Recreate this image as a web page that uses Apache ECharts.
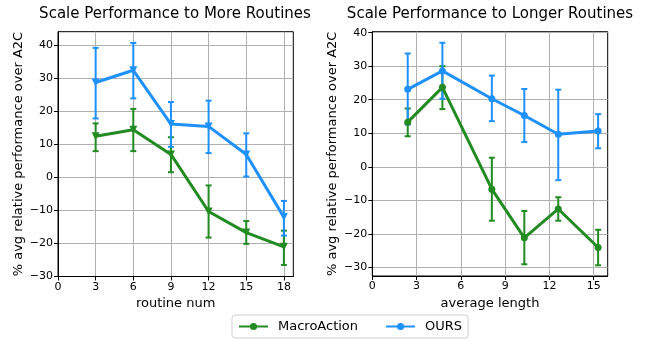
<!DOCTYPE html>
<html><head><meta charset="utf-8">
<script src="https://cdn.jsdelivr.net/npm/echarts@6/dist/echarts.min.js"></script>
<style>html,body{margin:0;padding:0;background:#fff}#c{width:650px;height:339px}</style>
</head><body><div id="c"></div><script>
// Left chart: Scale Performance to More Routines
const routineNum = [3, 6, 9, 12, 15, 18];
const macroMore = [12.5, 14.5, 7.0, -10.3, -16.7, -21.0];
const macroMoreLo = [8.0, 8.0, 1.6, -18.2, -20.1, -26.5];
const macroMoreHi = [16.4, 20.8, 12.2, -2.4, -13.2, -16.1];
const oursMore = [28.8, 32.5, 16.2, 15.5, 7.0, -12.0];
const oursMoreLo = [17.9, 24.0, 9.3, 7.4, 0.3, -17.6];
const oursMoreHi = [39.3, 40.8, 22.9, 23.3, 13.4, -7.1];

// Right chart: Scale Performance to Longer Routines
const avgLength = [2.4, 4.75, 8.1, 10.3, 12.6, 15.3];
const macroLong = [13.3, 23.7, -6.7, -21.2, -12.6, -24.1];
const macroLongLo = [9.1, 17.2, -16.1, -29.1, -16.1, -29.4];
const macroLongHi = [17.4, 30.0, 2.7, -13.2, -9.1, -18.8];
const oursLong = [23.1, 28.6, 20.3, 15.3, 9.7, 10.7];
const oursLongLo = [12.6, 20.3, 13.6, 7.4, -4.0, 5.5];
const oursLongHi = [33.8, 37.0, 27.2, 23.2, 23.0, 15.7];

const xTicks = [0, 3, 6, 9, 12, 15, 18];
const xTicksRight = [0, 3, 6, 9, 12, 15];
const yTicks = [-30, -20, -10, 0, 10, 20, 30, 40];

const GREEN = '#228B22', BLUE = '#1E90FF';
const FONT = 'DejaVu Sans';
const minus = v => String(v).replace('-', '\u2212');

function errRender(color) {
  return function (params, api) {
    const x = api.value(0), lo = api.value(1), hi = api.value(2);
    const p1 = api.coord([x, lo]), p2 = api.coord([x, hi]);
    const w = 3;
    const style = { stroke: color, lineWidth: 2 };
    return { type: 'group', children: [
      { type: 'line', shape: { x1: p1[0], y1: p1[1], x2: p2[0], y2: p2[1] }, style },
      { type: 'line', shape: { x1: p1[0] - w, y1: p1[1], x2: p1[0] + w, y2: p1[1] }, style },
      { type: 'line', shape: { x1: p2[0] - w, y1: p2[1], x2: p2[0] + w, y2: p2[1] }, style }
    ] };
  };
}
const pairs = (xs, ys) => xs.map((x, i) => [x, ys[i]]);
const triples = (xs, lo, hi) => xs.map((x, i) => [x, lo[i], hi[i]]);

function xAxisOpt(idx, max, ticks, name) {
  return {
    type: 'value', gridIndex: idx, min: 0, max: max, interval: 3,
    name: name, nameLocation: 'middle', nameGap: 18,
    nameTextStyle: { fontFamily: FONT, fontSize: 13, color: '#000' },
    axisLine: { show: true, onZero: false, lineStyle: { color: '#000', width: 1 } },
    axisTick: { show: true, length: 4, customValues: ticks, lineStyle: { color: '#000' } },
    axisLabel: { customValues: ticks, margin: 5, fontFamily: FONT, fontSize: 11, color: '#000', formatter: minus },
    splitLine: { show: true, lineStyle: { color: '#b0b0b0', width: 1 } }
  };
}
function yAxisOpt(idx, min, max) {
  return {
    type: 'value', gridIndex: idx, min: min, max: max, interval: 10,
    name: '% avg relative performance over A2C', nameLocation: 'middle', nameGap: 33,
    nameTextStyle: { fontFamily: FONT, fontSize: 13, color: '#000' },
    axisLine: { show: true, onZero: false, lineStyle: { color: '#000', width: 1 } },
    axisTick: { show: true, length: 4, customValues: yTicks, lineStyle: { color: '#000' } },
    axisLabel: { customValues: yTicks, margin: 5, fontFamily: FONT, fontSize: 11, color: '#000', formatter: minus },
    splitLine: { show: true, lineStyle: { color: '#b0b0b0', width: 1 } }
  };
}

const chart = echarts.init(document.getElementById('c'), null, { renderer: 'canvas' });
chart.setOption({
  animation: false,
  backgroundColor: '#fff',
  title: [
    { text: 'Scale Performance to More Routines', left: 175, top: 7, textAlign: 'center', padding: 0,
      textStyle: { fontFamily: FONT, fontSize: 15, fontWeight: 'normal', color: '#000' } },
    { text: 'Scale Performance to Longer Routines', left: 490, top: 7, textAlign: 'center', padding: 0,
      textStyle: { fontFamily: FONT, fontSize: 15, fontWeight: 'normal', color: '#000' } }
  ],
  grid: [
    { left: 58, top: 31.7, width: 235.3, height: 244.8, show: true, borderColor: '#000', borderWidth: 1 },
    { left: 372.3, top: 31.7, width: 235.4, height: 244.3, show: true, borderColor: '#000', borderWidth: 1 }
  ],
  xAxis: [
    xAxisOpt(0, 18.75, xTicks, 'routine num'),
    xAxisOpt(1, 15.95, xTicksRight, 'average length')
  ],
  yAxis: [
    yAxisOpt(0, -30, 44.2),
    yAxisOpt(1, -32.6, 40.3)
  ],
  legend: {
    data: ['MacroAction', 'OURS'],
    left: 232, top: 315,
    padding: [5, 6], itemGap: 27, itemWidth: 29, itemHeight: 9,
    borderColor: '#d0d0d0', borderWidth: 1, borderRadius: 3,
    textStyle: { fontFamily: FONT, fontSize: 13, color: '#000', padding: [0, 0, 0, 5] }
  },
  series: [
    { type: 'line', name: 'MacroAction', xAxisIndex: 1, yAxisIndex: 1, data: pairs(avgLength, macroLong),
      color: GREEN, symbol: 'circle', symbolSize: 7, lineStyle: { width: 3, color: GREEN }, itemStyle: { color: GREEN }, z: 5 },
    { type: 'line', name: 'OURS', xAxisIndex: 1, yAxisIndex: 1, data: pairs(avgLength, oursLong),
      color: BLUE, symbol: 'circle', symbolSize: 7, lineStyle: { width: 3, color: BLUE }, itemStyle: { color: BLUE }, z: 5 },
    { type: 'line', name: 'MacroAction', xAxisIndex: 0, yAxisIndex: 0, data: pairs(routineNum, macroMore),
      color: GREEN, symbol: 'triangle', symbolRotate: 180, symbolSize: 8, lineStyle: { width: 3, color: GREEN }, itemStyle: { color: GREEN }, z: 5 },
    { type: 'line', name: 'OURS', xAxisIndex: 0, yAxisIndex: 0, data: pairs(routineNum, oursMore),
      color: BLUE, symbol: 'triangle', symbolRotate: 180, symbolSize: 8, lineStyle: { width: 3, color: BLUE }, itemStyle: { color: BLUE }, z: 5 },
    { type: 'custom', name: 'MacroAction', xAxisIndex: 0, yAxisIndex: 0, renderItem: errRender(GREEN),
      encode: { x: 0, y: [1, 2] }, data: triples(routineNum, macroMoreLo, macroMoreHi), z: 4 },
    { type: 'custom', name: 'OURS', xAxisIndex: 0, yAxisIndex: 0, renderItem: errRender(BLUE),
      encode: { x: 0, y: [1, 2] }, data: triples(routineNum, oursMoreLo, oursMoreHi), z: 4 },
    { type: 'custom', name: 'MacroAction', xAxisIndex: 1, yAxisIndex: 1, renderItem: errRender(GREEN),
      encode: { x: 0, y: [1, 2] }, data: triples(avgLength, macroLongLo, macroLongHi), z: 4 },
    { type: 'custom', name: 'OURS', xAxisIndex: 1, yAxisIndex: 1, renderItem: errRender(BLUE),
      encode: { x: 0, y: [1, 2] }, data: triples(avgLength, oursLongLo, oursLongHi), z: 4 }
  ]
});
</script></body></html>
